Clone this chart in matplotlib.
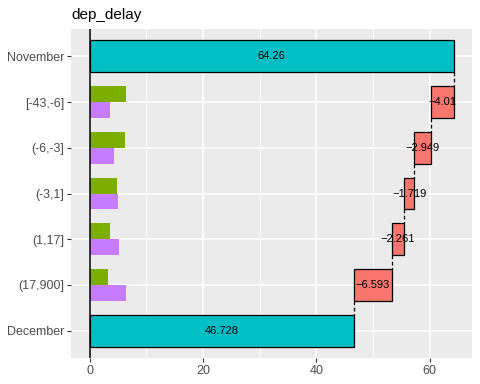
import numpy as np
import matplotlib
matplotlib.use("Agg")
from matplotlib import pyplot as plt

plt.rcParams['font.family'] = ['Liberation Sans', 'DejaVu Sans']

# rows from top to bottom
categories = ['November', '[-43,-6]', '(-6,-3]', '(-3,1]', '(1,17]', '(17,900]', 'December']
start_value = 64.26
end_value = 46.728
contrib = [-4.01, -2.949, -1.719, -2.261, -6.593]
contrib_labels = ['\u22124.01', '\u22122.949', '\u22121.719', '\u22122.261', '\u22126.593']
# share of each bin in the two months (green = November, purple = December)
share_nov = [6.45, 6.27, 4.86, 3.62, 3.27]
share_dec = [3.57, 4.33, 5.03, 5.21, 6.45]

CYAN = '#00BFC4'
RED = '#F8766D'
GREEN = '#7CAE00'
PURPLE = '#C77CFF'
TXT = '#4D4D4D'

fig = plt.figure(figsize=(4.8, 3.84), dpi=100)
ax = fig.add_axes([71 / 480, 1 - 358 / 384, (472 - 71) / 480, (358 - 29) / 384])
ax.set_facecolor('#EBEBEB')

ypos = np.arange(len(categories))
h = 0.7

# total bars
ax.barh(ypos[0], start_value, height=h, color=CYAN, edgecolor='black', linewidth=0.9, zorder=3)
ax.barh(ypos[-1], end_value, height=h, color=CYAN, edgecolor='black', linewidth=0.9, zorder=3)
ax.text(start_value / 2, ypos[0], f'{start_value:g}', ha='center', va='center', fontsize=8, zorder=5)
ax.text(end_value / 2, ypos[-1], f'{end_value:g}', ha='center', va='center', fontsize=8, zorder=5)

# waterfall pieces
cum = np.concatenate([[start_value], start_value + np.cumsum(contrib)])
for i, c in enumerate(contrib):
    y = ypos[i + 1]
    left = min(cum[i], cum[i + 1])
    ax.barh(y, abs(c), left=left, height=h, color=RED, edgecolor='black', linewidth=0.9, zorder=3)
    ax.text((cum[i] + cum[i + 1]) / 2, y, contrib_labels[i], ha='center', va='center', fontsize=8, zorder=5)

# connectors
for i in range(len(cum)):
    ax.vlines(cum[i], ypos[i] + h / 2, ypos[i + 1] - h / 2, colors='black',
              linestyles=(0, (3, 2)), linewidth=0.9, zorder=4)

# distribution bars
ax.barh(ypos[1:6] - h / 4, share_nov, height=h / 2, color=GREEN, zorder=3)
ax.barh(ypos[1:6] + h / 4, share_dec, height=h / 2, color=PURPLE, zorder=3)

ax.axvline(0, color='black', linewidth=1.1, zorder=4)

ax.set_xlim(-3.3, 67.5)
ax.set_ylim(len(categories) - 1 + 0.6, -0.6)
ax.set_xticks([0, 20, 40, 60])
ax.set_xticks([10, 30, 50], minor=True)
ax.set_yticks(ypos)
ax.set_yticklabels(categories)
ax.grid(which='major', color='white', linewidth=1.1, zorder=0)
ax.grid(which='minor', axis='x', color='white', linewidth=0.55, zorder=0)
ax.set_axisbelow(True)
for s in ax.spines.values():
    s.set_visible(False)
ax.tick_params(axis='both', which='major', colors='#333333', labelcolor=TXT,
               labelsize=9, length=3, width=0.8, pad=2)
ax.tick_params(which='minor', length=0)

fig.text(71 / 480, 1 - 15 / 384, 'dep_delay', ha='left', va='center', fontsize=11)

fig.savefig('out.png', dpi=100)
